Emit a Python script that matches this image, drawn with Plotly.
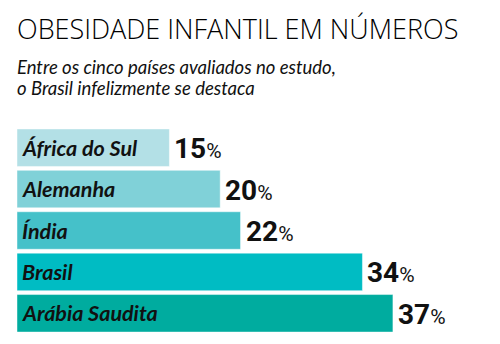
import plotly.graph_objects as go

countries = ["África do Sul", "Alemanha", "Índia", "Brasil", "Arábia Saudita"]
values = [15, 20, 22, 34, 37]
colors = ["#b3e0e6", "#80d1d8", "#45c1c9", "#00bcc3", "#00ac9f"]

title = "OBESIDADE INFANTIL EM NÚMEROS"
subtitle_lines = ["Entre os cinco países avaliados no estudo,", "o Brasil infelizmente se destaca"]

W, H = 500, 344
ML, MR, MT, MB = 17, 0, 127, 10
plot_h = H - MT - MB

def py(p):
    # pixel y (from top) -> paper y
    return (H - MB - p) / plot_h

def px(p):
    return (p - ML) / (W - ML - MR)

fig = go.Figure()
fig.add_trace(go.Bar(
    x=values, y=countries, orientation="h",
    marker=dict(color=colors, line=dict(color="rgba(255,255,255,0.45)", width=1)),
    hoverinfo="skip",
))

annotations = []
annotations.append(dict(
    text=title, xref="paper", yref="paper", x=px(15), y=py(49),
    xanchor="left", yanchor="bottom", showarrow=False,
    font=dict(family="Open Sans", size=27, color="#000", weight=300),
))
for i, line in enumerate(subtitle_lines):
    annotations.append(dict(
        text="<i>" + line + "</i>", xref="paper", yref="paper", x=px(15), y=py(80 + 21 * i),
        xanchor="left", yanchor="bottom", showarrow=False,
        font=dict(family="Lato", size=18.5, color="#111"),
    ))
for c, v in zip(countries, values):
    annotations.append(dict(
        text="<b><i>" + c + "</i></b>", x=0, y=c, xref="x", yref="y",
        xanchor="left", yanchor="middle", xshift=3, showarrow=False,
        font=dict(family="Lato", size=21.5, color="#111"),
    ))
    annotations.append(dict(
        text=("<b>%d</b><span style='font-size:21px'>%%</span>") % v,
        x=v, y=c, xref="x", yref="y",
        xanchor="left", yanchor="middle", xshift=3, yshift=-1, showarrow=False,
        font=dict(family="Roboto", size=28, color="#111"),
    ))

fig.update_layout(
    width=W, height=H, margin=dict(l=ML, r=MR, t=MT, b=MB),
    paper_bgcolor="white", plot_bgcolor="white",
    showlegend=False, bargap=0.094,
    xaxis=dict(range=[0, (W - ML - MR) / 10.16], visible=False, fixedrange=True),
    yaxis=dict(autorange="reversed", visible=False, fixedrange=True),
    annotations=annotations,
)
fig.write_html("out.html", config={"displayModeBar": False})
